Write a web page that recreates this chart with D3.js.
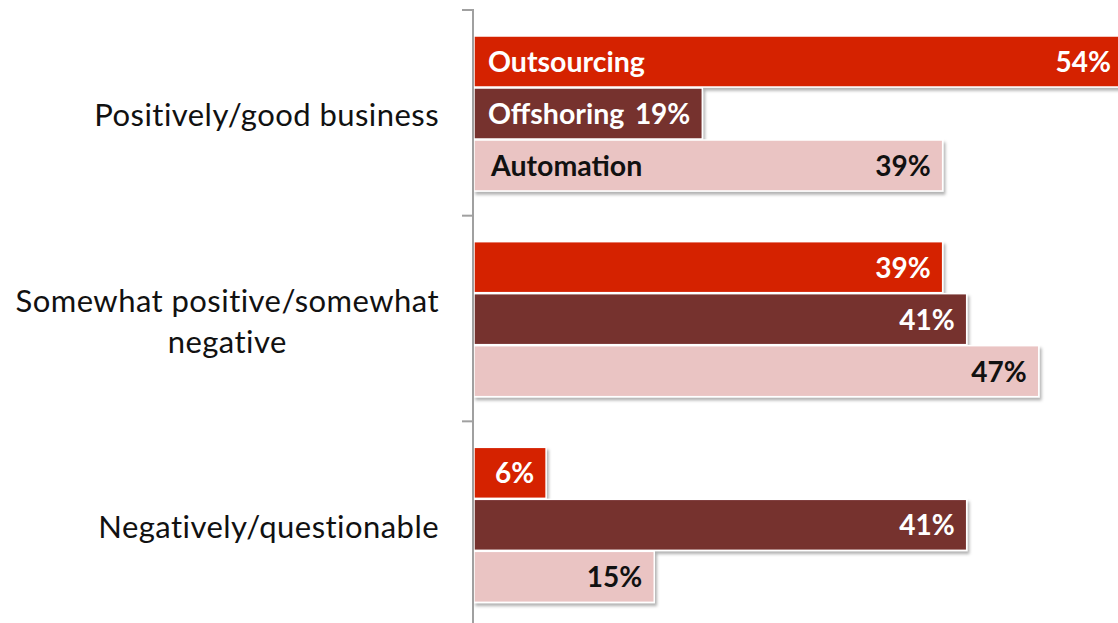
<!DOCTYPE html>
<html>
<head>
<meta charset="utf-8">
<script src="https://cdn.jsdelivr.net/npm/d3@7"></script>
<style>
  html, body { margin: 0; padding: 0; background: #fff; }
  svg { display: block; font-family: Lato, "Open Sans", sans-serif; }
</style>
</head>
<body>
<svg id="chart" width="1118" height="623"></svg>
<script>
// Survey answers by category, one value list per practice (percent)
const categories = ["Positively/good business", "Somewhat positive/somewhat negative", "Negatively/questionable"];
const series = ["Outsourcing", "Offshoring", "Automation"];
const outsourcing = [54, 39, 6];
const offshoring = [19, 41, 41];
const automation = [39, 47, 15];
const seriesValues = [outsourcing, offshoring, automation];

const colors = ["#d52000", "#76302e", "#eac4c3"];
const textColors = ["#ffffff", "#ffffff", "#111111"];

const W = 1118, H = 623;
const svg = d3.select("#chart");

const defs = svg.append("defs");
const shadow = defs.append("filter").attr("id", "barShadow")
  .attr("x", "-5%").attr("y", "-20%").attr("width", "115%").attr("height", "160%");
shadow.append("feDropShadow")
  .attr("dx", 2).attr("dy", 3).attr("stdDeviation", 1.6)
  .attr("flood-color", "#000").attr("flood-opacity", 0.3);

// Category bands down the page, bars grouped inside each band
const y = d3.scaleBand().domain(categories).range([10, 627]);
const yInner = d3.scaleBand().domain(series).range([26, 182]);
const x = d3.scaleLinear().domain([0, 60]).range([474, 474 + 721]);

const rows = [];
categories.forEach((c, ci) => {
  series.forEach((s, si) => {
    rows.push({ cat: c, ci, series: s, si, value: seriesValues[si][ci] });
  });
});

// Bars
svg.append("g").selectAll("rect").data(rows).join("rect")
  .attr("x", x(0))
  .attr("y", d => y(d.cat) + yInner(d.series))
  .attr("width", d => x(d.value) - x(0))
  .attr("height", yInner.bandwidth() - 1)
  .attr("fill", d => colors[d.si])
  .attr("stroke", "#ffffff")
  .attr("stroke-width", 1.5)
  .attr("filter", "url(#barShadow)");

// Value labels at the bar ends
svg.append("g").selectAll("text").data(rows).join("text")
  .attr("x", d => x(d.value) - 12)
  .attr("y", d => y(d.cat) + yInner(d.series) + yInner.bandwidth() / 2 + 10)
  .attr("text-anchor", "end")
  .attr("font-size", 28)
  .attr("font-weight", 700)
  .attr("fill", d => textColors[d.si])
  .text(d => d.value + "%");

// Series names inside the first group
svg.append("g").selectAll("text").data(series).join("text")
  .attr("x", (d, i) => i === 2 ? 491 : 488)
  .attr("y", d => y(categories[0]) + yInner(d) + yInner.bandwidth() / 2 + 10)
  .attr("font-size", 28.5)
  .attr("font-weight", 700)
  .attr("fill", (d, i) => textColors[i])
  .text(d => d);

// Vertical category axis with ticks between categories
const axis = svg.append("g").attr("stroke", "#a0a0a0").attr("stroke-width", 2);
axis.append("line")
  .attr("x1", 473).attr("x2", 473)
  .attr("y1", y.range()[0] - 1).attr("y2", H + 5);
const boundaries = categories.map(c => y(c)).concat([y.range()[1]]);
axis.selectAll("line.tick").data(boundaries).join("line")
  .attr("class", "tick")
  .attr("x1", 462).attr("x2", 473)
  .attr("y1", d => d).attr("y2", d => d);

// Category labels, wrapped and right-aligned to the axis
const labelSize = 31, lineGap = 41, maxWidth = 432, labelRight = 439;
const labels = svg.append("g").attr("font-size", labelSize)
  .attr("letter-spacing", 0.45).attr("fill", "#111");
categories.forEach(c => {
  const words = c.split(" ");
  const lines = [];
  let cur = [];
  const probe = labels.append("text");
  words.forEach(w => {
    const test = cur.concat([w]).join(" ");
    probe.text(test);
    if (cur.length && probe.node().getComputedTextLength() > maxWidth) {
      lines.push(cur.join(" "));
      cur = [w];
    } else {
      cur.push(w);
    }
  });
  lines.push(cur.join(" "));
  probe.remove();

  const widths = lines.map(l => {
    const t = labels.append("text").text(l);
    const w = t.node().getComputedTextLength();
    t.remove();
    return w;
  });
  const blockW = d3.max(widths);
  const cx = labelRight - blockW / 2;
  const mid = y(c) + y.bandwidth() / 2;
  const first = mid - (lines.length - 1) * lineGap / 2 + 13.5;
  lines.forEach((l, i) => {
    labels.append("text")
      .attr("x", lines.length > 1 ? cx : labelRight)
      .attr("y", first + i * lineGap)
      .attr("text-anchor", lines.length > 1 ? "middle" : "end")
      .text(l);
  });
});
</script>
</body>
</html>
